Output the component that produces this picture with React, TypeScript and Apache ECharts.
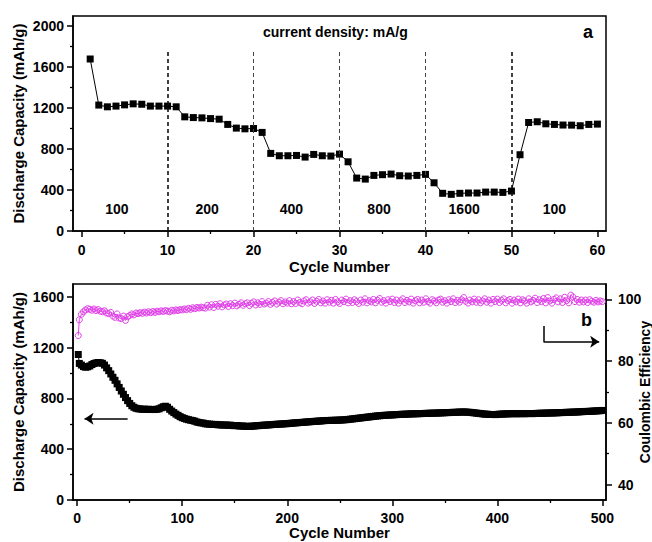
import React, { useEffect, useRef } from "react";
import * as echarts from "echarts";

// ---------- Panel (a): rate capability ----------
const rateCapacity = [
  1680, 1230, 1213, 1220, 1232, 1242, 1238, 1220, 1220, 1220,
  1213, 1115, 1108, 1105, 1098, 1092, 1041, 1005, 998, 1001,
  963, 758, 735, 735, 738, 722, 748, 735, 732, 751,
  676, 517, 507, 543, 550, 556, 540, 537, 543, 553,
  471, 368, 358, 368, 371, 371, 380, 380, 377, 390,
  745, 1060, 1067, 1047, 1041, 1035, 1034, 1028, 1041, 1044,
];
const rateLabels = ["100", "200", "400", "800", "1600", "100"];
const rateLabelCycles = [4.1, 14.6, 24.4, 34.6, 44.5, 55];
const rateLabelLevel = 215;
const rateBoundaries = [10, 20, 30, 40, 50];
const rateBoundaryTop = 1766;

const topXTicks = [0, 10, 20, 30, 40, 50, 60];
const topXMinor = [5, 15, 25, 35, 45, 55];
const topYTicks = [0, 400, 800, 1200, 1600, 2000];
const topYMinor = [200, 600, 1000, 1400, 1800];

// ---------- Panel (b): long cycling (cycle 1, then every 2nd cycle) ----------
const longDischarge = [
  1145,
  1075, 1062, 1050, 1045, 1048, 1055, 1066, 1074, 1079, 1082,
  1080, 1076, 1062, 1040, 1018, 992, 966, 942, 914, 886,
  858, 832, 806, 782, 760, 742, 730, 722, 718, 716,
  714, 715, 713, 714, 712, 713, 712, 714, 718, 726,
  734, 738, 730, 714, 700, 688, 676, 666, 656, 648,
  642, 636, 632, 628, 625, 620, 614, 610, 607, 605,
  600, 598, 597, 596, 594, 595, 592, 592, 590, 590,
  590, 588, 589, 586, 585, 586, 583, 582, 582, 580,
  580, 579, 581, 582, 584, 585, 586, 588, 589, 590,
  591, 592, 594, 595, 596, 597, 598, 599, 600, 601,
  603, 604, 606, 607, 608, 610, 611, 612, 614, 615,
  616, 618, 619, 620, 621, 622, 624, 625, 626, 626,
  627, 627, 628, 628, 629, 630, 631, 632, 634, 636,
  638, 640, 642, 644, 646, 648, 650, 652, 654, 656,
  658, 660, 662, 663, 665, 666, 667, 668, 669, 670,
  671, 672, 673, 674, 675, 675, 676, 677, 678, 678,
  679, 679, 680, 680, 681, 682, 682, 683, 683, 684,
  684, 685, 686, 686, 687, 688, 688, 689, 690, 690,
  691, 692, 692, 693, 692, 691, 690, 688, 686, 684,
  682, 680, 678, 676, 675, 674, 673, 673, 672, 674,
  675, 676, 677, 678, 678, 679, 679, 680, 679, 679,
  680, 680, 679, 680, 681, 680, 680, 681, 682, 682,
  683, 683, 684, 684, 685, 685, 686, 686, 687, 688,
  688, 689, 690, 690, 691, 692, 692, 693, 694, 695,
  696, 697, 697, 698, 699, 700, 701, 702, 703, 705,
];
const longEfficiency = [
  88.3,
  93.4, 95.2, 96.0, 96.6, 97.0, 96.8, 96.5, 96.9, 96.4, 96.7,
  96.2, 96.0, 96.3, 95.6, 95.4, 95.8, 94.6, 94.2, 95.3, 94.0,
  93.8, 94.6, 93.2, 94.4, 94.8, 95.3, 95.0, 95.6, 95.4, 95.7,
  95.5, 95.9, 95.6, 96.0, 95.7, 96.1, 95.8, 96.2, 96.0, 96.3,
  96.1, 96.4, 96.2, 96.0, 96.5, 96.3, 96.6, 96.4, 96.7, 96.6,
  96.9, 96.7, 97.1, 96.8, 97.3, 97.0, 97.4, 97.2, 97.5, 97.3,
  97.2, 98.1, 97.5, 98.3, 97.4, 98.4, 97.8, 98.6, 97.6, 98.2,
  98.5, 97.7, 98.6, 98.0, 98.8, 97.9, 98.4, 98.9, 98.1, 98.6,
  98.9, 98.0, 98.7, 99.2, 98.2, 98.9, 98.4, 99.3, 98.5, 98.8,
  99.3, 98.4, 99.0, 99.5, 98.5, 99.1, 99.6, 98.6, 99.2, 98.8,
  99.6, 98.6, 99.3, 98.7, 99.8, 99.0, 98.6, 99.5, 99.9, 98.8,
  99.2, 99.8, 98.7, 99.4, 100.0, 98.9, 99.5, 98.8, 99.9, 99.1,
  99.7, 98.8, 100.0, 99.2, 98.7, 99.8, 99.3, 100.1, 98.9, 99.6,
  99.0, 99.9, 99.3, 98.7, 99.8, 99.1, 100.2, 98.9, 99.6, 99.2,
  100.0, 98.9, 99.7, 100.3, 99.1, 99.6, 98.8, 99.9, 99.3, 100.1,
  99.0, 99.8, 98.8, 99.6, 100.2, 99.0, 99.7, 99.2, 100.1, 98.8,
  99.6, 100.0, 98.9, 99.8, 99.1, 100.2, 99.3, 98.8, 99.9, 99.5,
  98.9, 99.8, 100.1, 99.1, 99.6, 98.8, 99.9, 99.3, 100.2, 99.0,
  99.7, 99.1, 99.9, 100.6, 99.4, 98.8, 99.8, 99.2, 100.1, 99.1,
  99.9, 98.9, 99.5, 100.2, 99.1, 99.8, 98.8, 100.0, 99.3, 100.1,
  99.0, 99.7, 100.2, 98.9, 99.6, 100.0, 98.8, 99.8, 99.2, 100.1,
  98.9, 99.9, 99.5, 98.8, 100.2, 99.2, 99.7, 100.4, 99.0, 99.9,
  99.3, 100.3, 98.9, 100.6, 99.5, 98.8, 100.0, 100.5, 99.2, 100.2,
  99.0, 100.7, 99.6, 98.9, 101.4, 100.8, 99.3, 100.0, 99.1, 99.8,
  99.2, 99.8, 99.0, 99.9, 99.4, 99.1, 99.7, 99.2, 99.5, 99.3,
];
const longCycles = longDischarge.map((_, i) => (i === 0 ? 1 : i * 2));

const botXTicks = [0, 100, 200, 300, 400, 500];
const botXMinor = [50, 150, 250, 350, 450];
const botYTicks = [0, 400, 800, 1200, 1600];
const botYMinor = [200, 600, 1000, 1400];
const ceTicks = [40, 60, 80, 100];
const ceMinor = [50, 70, 90];

const FONT = '"Liberation Sans", Arial, Helvetica, sans-serif';
const MAGENTA = "#e040e8";
const txt = { color: "#000", fontFamily: FONT, fontWeight: "bold" as const, fontSize: 14 };

function mainAxis(gridIndex: number, min: number, max: number, ticks: number[], position: string, name: string, nameGap: number, margin: number, nameSize = 15) {
  return {
    type: "value",
    gridIndex,
    min,
    max,
    position,
    name,
    nameLocation: "middle",
    nameGap,
    nameMoveOverlap: false,
    nameTextStyle: { ...txt, fontSize: nameSize },
    axisLine: { show: true, onZero: false, lineStyle: { color: "#000", width: 1.5 } },
    axisTick: { show: true, inside: false, length: 6, customValues: ticks, lineStyle: { color: "#000", width: 1.5 } },
    axisLabel: { show: true, customValues: ticks, margin, formatter: (v: number) => String(v), ...txt },
    splitLine: { show: false },
    minorTick: { show: false },
  };
}
function minorAxis(gridIndex: number, min: number, max: number, ticks: number[], position: string) {
  return {
    type: "value",
    gridIndex,
    min,
    max,
    position,
    axisLine: { show: false, onZero: false },
    axisTick: { show: true, inside: false, length: 3, customValues: ticks, lineStyle: { color: "#000", width: 1.3 } },
    axisLabel: { show: false },
    splitLine: { show: false },
  };
}

export default function App() {
  const ref = useRef<HTMLDivElement>(null);
  useEffect(() => {
    if (!ref.current) return;
    const chart = echarts.init(ref.current, null, { renderer: "svg" });
    const dashLines = rateBoundaries.map((b, i) => [
      {
        coord: [b, 0],
        lineStyle: {
          type: [4, 3],
          color: i === 0 || i === 4 ? "#111" : "#444",
          width: i === 0 || i === 4 ? 1.6 : 1,
        },
      },
      { coord: [b, rateBoundaryTop] },
    ]);
    chart.setOption({
      animation: false,
      backgroundColor: "#fff",
      grid: [
        { left: 73, top: 16, width: 533, height: 215, show: true, borderColor: "#000", borderWidth: 1.5, backgroundColor: "transparent", containLabel: false, outerBoundsMode: "none" },
        { left: 73, top: 284, width: 533, height: 216, show: true, borderColor: "#000", borderWidth: 1.5, backgroundColor: "transparent", containLabel: false, outerBoundsMode: "none" },
      ],
      xAxis: [
        mainAxis(0, -1, 61, topXTicks, "bottom", "Cycle Number", 28, 12),
        minorAxis(0, -1, 61, topXMinor, "bottom"),
        mainAxis(1, -4, 503.5, botXTicks, "bottom", "Cycle Number", 25, 11),
        minorAxis(1, -4, 503.5, botXMinor, "bottom"),
      ],
      yAxis: [
        mainAxis(0, 0, 2100, topYTicks, "left", "Discharge Capacity (mAh/g)", 47, 9),
        minorAxis(0, 0, 2100, topYMinor, "left"),
        mainAxis(1, 0, 1700, botYTicks, "left", "Discharge Capacity (mAh/g)", 47, 9),
        minorAxis(1, 0, 1700, botYMinor, "left"),
        mainAxis(1, 35, 105, ceTicks, "right", "Coulombic Efficiency", 32, 12, 14),
        minorAxis(1, 35, 105, ceMinor, "right"),
      ],
      graphic: [
        { type: "text", left: 263, top: 25, style: { text: "current density: mA/g", font: `bold 14px ${FONT}`, fill: "#000" } },
        { type: "text", left: 583, top: 23, style: { text: "a", font: `bold 18px ${FONT}`, fill: "#000" } },
        { type: "text", left: 581, top: 311, style: { text: "b", font: `bold 18px ${FONT}`, fill: "#000" } },
      ],
      series: [
        {
          type: "line",
          xAxisIndex: 0,
          yAxisIndex: 0,
          data: rateCapacity.map((v, i) => [i + 1, v]),
          symbol: "rect",
          symbolSize: 7,
          itemStyle: { color: "#000" },
          lineStyle: { color: "#000", width: 1 },
          markLine: { silent: true, symbol: ["none", "none"], label: { show: false }, data: dashLines },
          z: 3,
        },
        {
          type: "scatter",
          xAxisIndex: 0,
          yAxisIndex: 0,
          data: rateLabelCycles.map((c) => [c, rateLabelLevel]),
          symbolSize: 1,
          itemStyle: { color: "rgba(0,0,0,0)", opacity: 1 },
          label: {
            show: true,
            position: "inside",
            formatter: (p: any) => rateLabels[p.dataIndex],
            ...txt,
            fontSize: 14,
            opacity: 1,
            textBorderWidth: 0,
            textBorderColor: "transparent",
          },
          silent: true,
        },
        {
          type: "line",
          xAxisIndex: 2,
          yAxisIndex: 4,
          data: longEfficiency.map((v, i) => [longCycles[i], v]),
          symbol: "circle",
          symbolSize: 6,
          itemStyle: { color: "rgba(255,255,255,0)", borderColor: MAGENTA, borderWidth: 1 },
          lineStyle: { color: MAGENTA, width: 1 },
          markLine: {
            silent: true,
            symbolSize: 9,
            label: { show: false },
            lineStyle: { color: "#000", width: 1.5, type: "solid" },
            data: [
              [{ coord: [444, 91.4], symbol: "none" }, { coord: [444, 86.3], symbol: "none" }],
              [{ coord: [444, 86.3], symbol: "none" }, { coord: [497, 86.3], symbol: "arrow" }],
            ],
          },
          z: 2,
        },
        {
          type: "line",
          xAxisIndex: 2,
          yAxisIndex: 2,
          data: longDischarge.map((v, i) => [longCycles[i], v]),
          symbol: "rect",
          symbolSize: 7,
          itemStyle: { color: "#000" },
          lineStyle: { color: "#000", width: 1 },
          markLine: {
            silent: true,
            symbolSize: 9,
            label: { show: false },
            lineStyle: { color: "#000", width: 1.5, type: "solid" },
            data: [[{ coord: [48, 639], symbol: "none" }, { coord: [7, 639], symbol: "arrow" }]],
          },
          z: 3,
        },
      ],
    });
    return () => chart.dispose();
  }, []);
  return <div ref={ref} style={{ position: "fixed", left: 0, top: 0, width: 652, height: 542, background: "#fff" }} />;
}
